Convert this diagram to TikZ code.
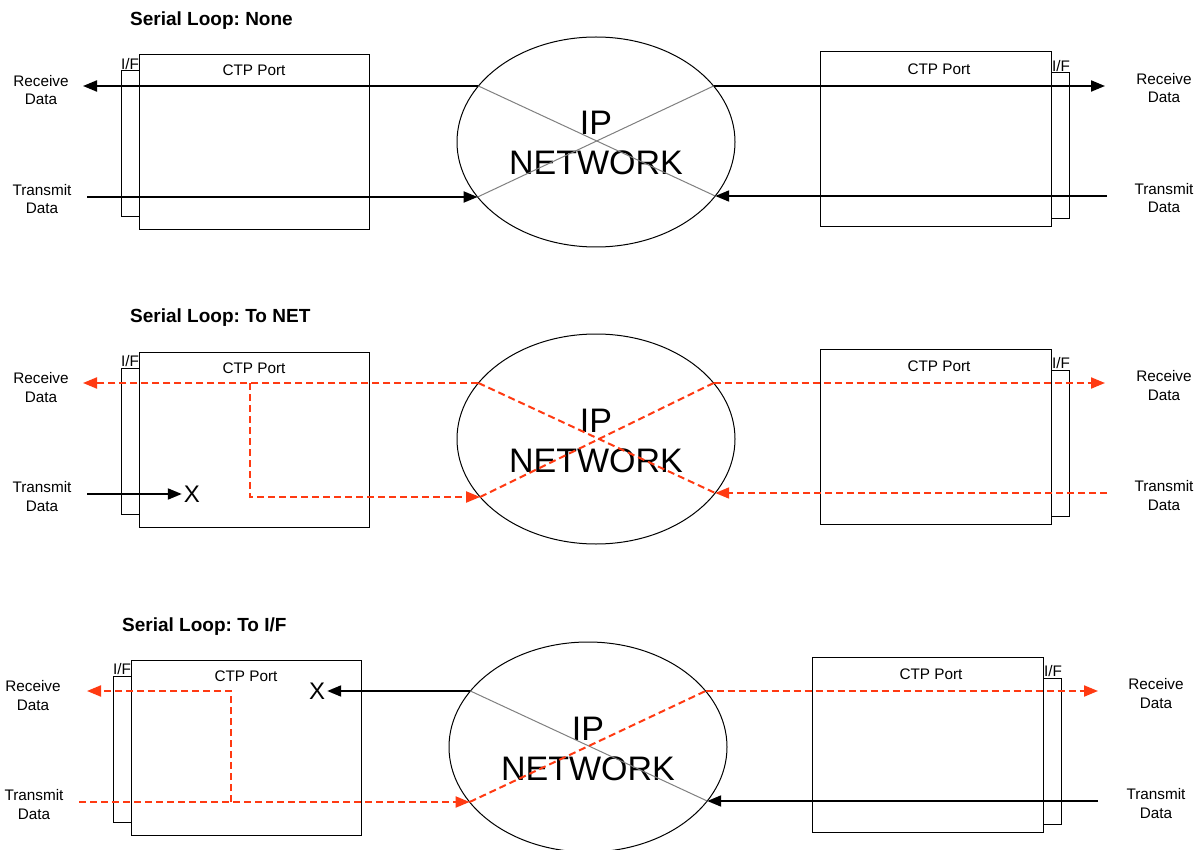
\documentclass[tikz,border=0pt]{standalone}
\usepackage{fontspec}
\setmainfont{Liberation Sans}
\usetikzlibrary{arrows.meta,shapes.geometric}
\frenchspacing

\definecolor{loopred}{RGB}{255,58,18}
\definecolor{crossgray}{RGB}{128,128,128}

\tikzset{
  box/.style={draw, line width=1pt, inner sep=0pt},
  lbl/.style={font=\fontsize{15.3}{18.5}\selectfont, align=center, anchor=base, inner sep=0pt},
  ttl/.style={font=\fontsize{19}{22}\selectfont\bfseries, anchor=base west, inner sep=0pt},
  netshape/.style={ellipse, draw, line width=1pt, minimum width=278pt, minimum height=210pt,
    inner sep=0pt},
  nettext/.style={font=\fontsize{34}{40}\selectfont, align=center, anchor=base, inner sep=0pt},
  xmark/.style={font=\fontsize{24}{28}\selectfont, inner xsep=2pt, inner ysep=0pt},
  tip/.style={-{Triangle[length=14pt,width=11pt]}},
  wire/.style={line width=2pt},
  wirearr/.style={wire, tip},
  lp/.style={line width=2pt, loopred, dash pattern=on 7pt off 4pt},
  lparr/.style={lp, tip},
  xline/.style={line width=1pt, crossgray},
}

% frame shared by the three panels: title, ports, interfaces, labels, network
% (for the two-line labels the base anchor sits on the last line)
\newcommand\portpanel[1]{%
  \node[ttl] (title) at (130,26) {#1};
  \node[box, minimum width=18pt, minimum height=146pt] (ifL) at (130,144) {};
  \node[box, minimum width=230pt, minimum height=175pt] (ctpL) at (254,142.5) {};
  \node[box, minimum width=18pt, minimum height=146pt] (ifR) at (1060,146) {};
  \node[box, minimum width=231pt, minimum height=175pt] (ctpR) at (935.5,139.5) {};
  \node[lbl] (ifLt) at (130,69.5) {I/F};
  \node[lbl] (ifRt) at (1061,71.5) {I/F};
  \node[lbl] (ctpLt) at (254,76) {CTP Port};
  \node[lbl] (ctpRt) at (939,74.5) {CTP Port};
  \node[lbl] (rxLt) at (41,105) {Receive\\Data};
  \node[lbl] (txLt) at (42,214) {Transmit\\Data};
  \node[lbl] (rxRt) at (1164,103) {Receive\\Data};
  \node[lbl] (txRt) at (1164,213) {Transmit\\Data};
  \node[netshape] (net) at (596,142) {};
  \node[nettext] (nettxt) at (596,175) {IP\\NETWORK};
  % points where the data paths meet the network outline
  \coordinate (nUL) at (478.4,86);
  \coordinate (nUR) at (713.6,86);
  \coordinate (nLL) at (477.6,197);
  \coordinate (nLR) at (715.2,196);
}

\begin{document}
\begin{tikzpicture}[x=1pt, y=-1pt]
\useasboundingbox (0,0) rectangle (1199,850);
\fill[white] (0,0) rectangle (1199,850);

% ---- Serial Loop: None ----
\begin{scope}[name prefix=a-]
  \portpanel{Serial Loop: None}
  \coordinate (rxL) at (83,86);
  \coordinate (txL) at (87,197);
  \coordinate (rxR) at (1105,86);
  \coordinate (txR) at (1107,196);
  \draw[xline] (nUL) -- (nLR);
  \draw[xline] (nLL) -- (nUR);
  \draw[wirearr] (nUL) -- (rxL);
  \draw[wirearr] (txL) -- (nLL);
  \draw[wirearr] (nUR) -- (rxR);
  \draw[wirearr] (txR) -- (nLR);
\end{scope}

% ---- Serial Loop: To NET ----
\begin{scope}[shift={(0,297)}, name prefix=b-]
  \portpanel{Serial Loop: To NET}
  \coordinate (rxL) at (83,86);
  \coordinate (txL) at (87,197);
  \coordinate (rxR) at (1105,86);
  \coordinate (txR) at (1107,196);
  \coordinate (bendT) at (250,86);
  \coordinate (bendB) at (250,200);
  \coordinate (nLLb) at (480.1,200);
  \node[xmark] (xm) at (192,197) {X};
  \draw[wirearr] (txL) -- (xm);
  \draw[lp] (nUL) -- (nLR);
  \draw[lp] (nLLb) -- (nUR);
  \draw[lparr] (nUL) -- (rxL);
  \draw[lparr] (bendT) -- (bendB) -- (nLLb);
  \draw[lparr] (nUR) -- (rxR);
  \draw[lparr] (txR) -- (nLR);
\end{scope}

% ---- Serial Loop: To I/F ----
\begin{scope}[shift={(-8,605)}, name prefix=c-]
  \portpanel{Serial Loop: To I/F}
  \coordinate (rxL) at (95,86);
  \coordinate (txL) at (87,197);
  \coordinate (rxR) at (1106,86);
  \coordinate (txR) at (1106,196);
  \coordinate (bendB) at (239,197);
  \coordinate (bendT) at (239,86);
  \node[xmark] (xm) at (325,86) {X};
  \draw[xline] (nUL) -- (nLR);
  \draw[lp] (nLL) -- (nUR);
  \draw[wirearr] (nUL) -- (xm);
  \draw[lparr] (txL) -- (nLL);
  \draw[lparr] (bendB) -- (bendT) -- (rxL);
  \draw[lparr] (nUR) -- (rxR);
  \draw[wirearr] (txR) -- (nLR);
\end{scope}
\end{tikzpicture}
\end{document}
